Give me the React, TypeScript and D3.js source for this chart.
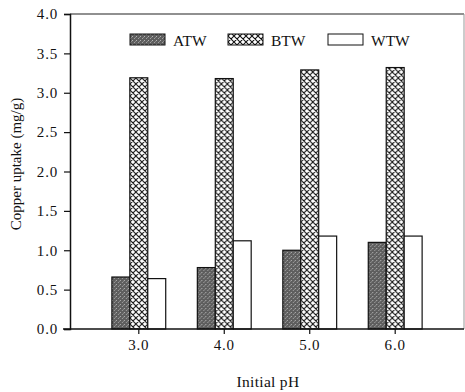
import React, { useEffect, useRef } from 'react';
import * as d3 from 'd3';

const categories = ['3.0', '4.0', '5.0', '6.0'];
const seriesNames = ['ATW', 'BTW', 'WTW'];
const atw = [0.66, 0.78, 1.0, 1.1];
const btw = [3.19, 3.18, 3.29, 3.32];
const wtw = [0.64, 1.12, 1.18, 1.18];
const yTicks = [0, 0.5, 1, 1.5, 2, 2.5, 3, 3.5, 4];

const W = 465;
const H = 392;
const FONT = "'Liberation Serif', 'Times New Roman', serif";

const App: React.FC = () => {
    const svgRef = useRef<SVGSVGElement | null>(null);

    useEffect(() => {
        const svg = d3.select(svgRef.current);
        svg.selectAll('*').remove();

        const margin = { top: 14, right: 1, bottom: 63, left: 70 };

        const defs = svg.append('defs');
        // cross hatch for BTW
        const hatch = defs.append('pattern')
            .attr('id', 'hatch')
            .attr('patternUnits', 'userSpaceOnUse')
            .attr('width', 6)
            .attr('height', 6);
        hatch.append('rect').attr('width', 6).attr('height', 6).attr('fill', '#fff');
        hatch.append('path').attr('d', 'M0,0 L6,6 M6,0 L0,6 M-1,5 L1,7 M5,-1 L7,1 M-1,1 L1,-1 M5,7 L7,5')
            .attr('stroke', '#111').attr('stroke-width', 1.1);
        // stipple for ATW
        const stip = defs.append('pattern')
            .attr('id', 'stipple')
            .attr('patternUnits', 'userSpaceOnUse')
            .attr('width', 4)
            .attr('height', 4);
        stip.append('rect').attr('width', 4).attr('height', 4).attr('fill', '#5e5e5e');
        stip.append('rect').attr('x', 0).attr('y', 0).attr('width', 1).attr('height', 1).attr('fill', '#b5b5b5');
        stip.append('rect').attr('x', 2).attr('y', 2).attr('width', 1).attr('height', 1).attr('fill', '#a0a0a0');
        stip.append('rect').attr('x', 3).attr('y', 1).attr('width', 1).attr('height', 1).attr('fill', '#8a8a8a');

        const fills = ['url(#stipple)', 'url(#hatch)', '#fff'];

        const x0 = d3.scaleBand<string>()
            .domain(categories)
            .range([margin.left, W - margin.right])
            .paddingInner(0.37)
            .paddingOuter(0.49);

        const x1 = d3.scaleBand<string>()
            .domain(seriesNames)
            .range([0, x0.bandwidth()]);

        const y = d3.scaleLinear()
            .domain([0, 4])
            .range([H - margin.bottom, margin.top]);

        const values = [atw, btw, wtw];

        // bars
        categories.forEach((c, i) => {
            const g = svg.append('g').attr('transform', `translate(${x0(c)},0)`);
            seriesNames.forEach((s, k) => {
                const v = values[k][i];
                g.append('rect')
                    .attr('x', x1(s)!)
                    .attr('y', y(v))
                    .attr('width', x1.bandwidth())
                    .attr('height', y(0) - y(v))
                    .attr('fill', fills[k])
                    .attr('stroke', '#111')
                    .attr('stroke-width', 1.2);
            });
        });

        // frame
        svg.append('line')
            .attr('x1', margin.left).attr('x2', W - margin.right)
            .attr('y1', y(4)).attr('y2', y(4))
            .attr('stroke', '#222').attr('stroke-width', 1.2);
        svg.append('line')
            .attr('x1', W - margin.right).attr('x2', W - margin.right)
            .attr('y1', y(4)).attr('y2', y(0))
            .attr('stroke', '#999').attr('stroke-width', 1);

        // y axis
        const yAxis = svg.append('g')
            .attr('transform', `translate(${margin.left},0)`)
            .call(d3.axisLeft(y).tickValues(yTicks).tickFormat(d3.format('.1f')).tickSize(6).tickPadding(6));
        yAxis.select('.domain').attr('stroke', '#111').attr('stroke-width', 1.5);
        yAxis.selectAll('.tick line').attr('stroke', '#111').attr('stroke-width', 1.2);
        yAxis.selectAll('text')
            .attr('font-family', FONT).attr('font-size', 15).attr('letter-spacing', 0.8).attr('fill', '#111');

        // x axis
        const xAxis = svg.append('g')
            .attr('transform', `translate(0,${y(0)})`)
            .call(d3.axisBottom(x0).tickSize(5).tickPadding(5).tickSizeOuter(0));
        xAxis.select('.domain').attr('stroke', '#111').attr('stroke-width', 1.5)
            .attr('d', `M${margin.left - 7},0H${W - margin.right}`);
        xAxis.selectAll('.tick line').attr('stroke', '#111').attr('stroke-width', 1.2);
        xAxis.selectAll('text')
            .attr('font-family', FONT).attr('font-size', 15).attr('letter-spacing', 0.8).attr('fill', '#111');

        // axis titles
        svg.append('text')
            .attr('x', 268)
            .attr('y', 387)
            .attr('text-anchor', 'middle')
            .attr('font-family', FONT)
            .attr('font-size', 15.5)
            .attr('letter-spacing', 0.3)
            .attr('fill', '#111')
            .text('Initial pH');

        svg.append('text')
            .attr('transform', `translate(21,164) rotate(-90)`)
            .attr('text-anchor', 'middle')
            .attr('font-family', FONT)
            .attr('font-size', 15)
            .attr('fill', '#111')
            .text('Copper uptake (mg/g)');

        // legend
        const legendX = d3.scaleOrdinal<string, number>()
            .domain(seriesNames)
            .range([130, 228, 328]);
        seriesNames.forEach((s, k) => {
            const lx = legendX(s);
            svg.append('rect')
                .attr('x', lx).attr('y', 34)
                .attr('width', 35).attr('height', 11)
                .attr('fill', fills[k])
                .attr('stroke', '#111').attr('stroke-width', 1);
            svg.append('text')
                .attr('x', lx + 43).attr('y', 46)
                .attr('font-family', FONT)
                .attr('font-size', 15.5)
                .attr('fill', '#111')
                .text(s);
        });
    }, []);

    return (
        <svg ref={svgRef} width={W} height={H} style={{ display: 'block', position: 'absolute', left: 0, top: 0, background: '#fff' }}></svg>
    );
};

export default App;
